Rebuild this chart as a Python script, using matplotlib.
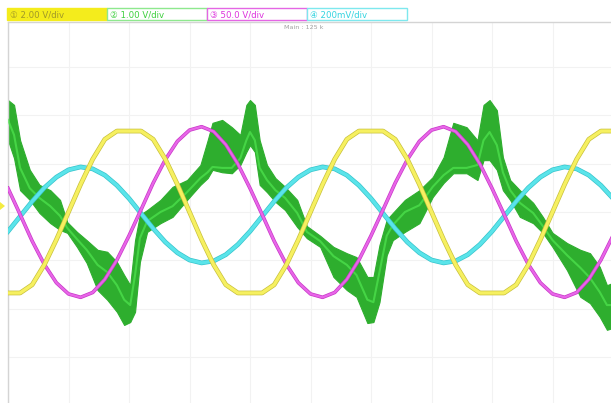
import matplotlib
matplotlib.use("Agg")
import matplotlib.pyplot as plt
from matplotlib.patches import Rectangle, Polygon

# Sine channels sampled every 1 ms, amplitudes in screen divisions
t_ms = list(range(0, 51))

ch1_yellow = [-1.67, -1.67, -1.50, -1.09, -0.57, 0.00, 0.57, 1.09, 1.50, 1.67,
              1.67, 1.67, 1.50, 1.09, 0.57, 0.00, -0.57, -1.09, -1.50, -1.67,
              -1.67, -1.67, -1.50, -1.09, -0.57, 0.00, 0.57, 1.09, 1.50, 1.67,
              1.67, 1.67, 1.50, 1.09, 0.57, 0.00, -0.57, -1.09, -1.50, -1.67,
              -1.67, -1.67, -1.50, -1.09, -0.57, 0.00, 0.57, 1.09, 1.50, 1.67,
              1.67]

ch3_magenta = [0.49, -0.05, -0.60, -1.08, -1.46, -1.69, -1.76, -1.66, -1.39, -0.99,
               -0.49, 0.05, 0.60, 1.08, 1.46, 1.69, 1.76, 1.66, 1.39, 0.99,
               0.49, -0.05, -0.60, -1.08, -1.46, -1.69, -1.76, -1.66, -1.39, -0.99,
               -0.49, 0.05, 0.60, 1.08, 1.46, 1.69, 1.76, 1.66, 1.39, 0.99,
               0.49, -0.05, -0.60, -1.08, -1.46, -1.69, -1.76, -1.66, -1.39, -0.99,
               -0.49]

ch4_cyan = [-0.40, -0.09, 0.22, 0.50, 0.72, 0.87, 0.93, 0.89, 0.76, 0.55,
            0.28, -0.03, -0.34, -0.62, -0.84, -0.99, -1.05, -1.01, -0.88, -0.67,
            -0.40, -0.09, 0.22, 0.50, 0.72, 0.87, 0.93, 0.89, 0.76, 0.55,
            0.28, -0.03, -0.34, -0.62, -0.84, -0.99, -1.05, -1.01, -0.88, -0.67,
            -0.40, -0.09, 0.22, 0.50, 0.72, 0.87, 0.93, 0.89, 0.76, 0.55,
            0.28]

# Channel 2 is a noisy current: envelope top / bottom and the bright core
ch2_t = [0.0, 0.5, 1.0, 1.8, 2.6, 3.5, 4.3, 4.9, 5.7, 6.5,
         7.4, 8.2, 9.0, 9.6, 10.1, 10.5, 10.9, 11.5, 12.6, 13.6,
         14.8, 15.9, 16.5, 16.9, 17.7, 18.5, 19.2, 19.7, 20.0, 20.4,
         20.8, 21.4, 22.1, 22.9, 23.9, 24.7, 25.8, 26.9, 28.0, 28.8,
         29.7, 30.2, 30.7, 31.3, 31.8, 32.8, 34.0, 35.1, 36.0, 36.8,
         37.9, 38.8, 39.3, 39.8, 40.4, 40.9, 41.5, 42.3, 43.4, 44.2,
         45.0, 46.2, 47.3, 48.1, 48.9, 49.5, 50.0]
ch2_hi = [2.31, 2.21, 1.48, 0.87, 0.56, 0.45, 0.25, -0.21, -0.41, -0.58,
          -0.78, -0.82, -1.03, -1.30, -1.51, -0.58, -0.06, 0.04, 0.25, 0.52,
          0.66, 0.97, 1.48, 1.84, 1.90, 1.75, 1.59, 2.21, 2.31, 2.21,
          1.48, 0.97, 0.70, 0.52, 0.25, -0.29, -0.49, -0.72, -0.85, -0.93,
          -1.34, -1.34, -0.68, -0.16, -0.02, 0.25, 0.45, 0.72, 1.13, 1.84,
          1.75, 1.48, 2.21, 2.31, 2.10, 1.13, 0.66, 0.45, 0.19, -0.10,
          -0.43, -0.64, -0.78, -0.85, -1.13, -1.51, -1.46]
ch2_lo = [1.48, 1.11, 0.45, 0.25, -0.02, -0.23, -0.37, -0.43, -0.72, -1.05,
          -1.61, -1.81, -2.06, -2.33, -2.27, -2.06, -1.03, -0.41, -0.23, -0.10,
          0.25, 0.56, 0.70, 0.87, 0.82, 0.80, 0.97, 1.24, 1.38, 1.24,
          0.56, 0.41, 0.21, 0.04, -0.31, -0.54, -0.72, -1.34, -1.61, -1.75,
          -2.29, -2.27, -1.86, -0.89, -0.58, -0.41, -0.23, 0.31, 0.60, 0.80,
          0.80, 0.66, 1.07, 1.07, 0.87, 0.45, 0.25, -0.10, -0.23, -0.43,
          -0.72, -1.20, -1.75, -1.88, -2.16, -2.43, -2.39]
ch2_mid = [1.90, 1.59, 0.91, 0.49, 0.29, 0.12, -0.08, -0.33, -0.56, -0.78,
           -1.09, -1.24, -1.51, -1.81, -1.92, -1.30, -0.54, -0.19, 0.00, 0.12,
           0.41, 0.70, 0.82, 0.93, 0.91, 0.91, 1.11, 1.48, 1.65, 1.48,
           0.91, 0.66, 0.45, 0.29, -0.02, -0.41, -0.60, -0.91, -1.09, -1.30,
           -1.81, -1.86, -1.24, -0.49, -0.27, 0.00, 0.14, 0.52, 0.76, 0.91,
           0.91, 0.97, 1.48, 1.65, 1.38, 0.82, 0.45, 0.19, -0.02, -0.29,
           -0.58, -0.89, -1.15, -1.36, -1.65, -1.92, -1.92]

header_labels = ["2.00 V/div", "1.00 V/div", "50.0 V/div", "200mV/div"]
header_marks = ["\u2460", "\u2461", "\u2462", "\u2463"]
header_edge = ["#f4ec1c", "#8ee88e", "#e466e4", "#7ee8ee"]
header_fill = ["#f4ec1c", "#ffffff", "#ffffff", "#ffffff"]
header_text = ["#a09828", "#3ccf3c", "#dd33dd", "#33d4e0"]

fig = plt.figure(figsize=(6.11, 4.03), dpi=100)
fig.patch.set_facecolor("white")

# screen area: 5 ms per vertical grid line, 1 div per horizontal line
ax = fig.add_axes([8 / 611, 0, 605 / 611, 381 / 403])
ax.set_xlim(0, 50)
ax.set_ylim(-3.94, 3.92)
ax.set_xticks(range(0, 51, 5))
ax.set_yticks(range(-3, 4))
ax.grid(color="#f2f2f2", lw=0.8)
ax.tick_params(length=0, labelleft=False, labelbottom=False)
for side in ["right", "bottom"]:
    ax.spines[side].set_visible(False)
for side in ["left", "top"]:
    ax.spines[side].set_color("#d4d4d4")
    ax.spines[side].set_linewidth(1.0)

# channel 2 band with its brighter core
ax.fill_between(ch2_t, ch2_lo, ch2_hi, color="#2eae2e", lw=0.8, zorder=2)
ax.plot(ch2_t, ch2_mid, color="#4fe64f", lw=1.5, alpha=0.7, zorder=3)

# sine channels, darker rim under a bright stroke
ax.plot(t_ms, ch4_cyan, color="#38c4cc", lw=3.4, zorder=4)
ax.plot(t_ms, ch4_cyan, color="#5ae4ea", lw=2.4, zorder=4)
ax.plot(t_ms, ch3_magenta, color="#c838c8", lw=2.6, zorder=5)
ax.plot(t_ms, ch3_magenta, color="#e866e8", lw=1.6, zorder=5)
ax.plot(t_ms, ch1_yellow, color="#c8c03c", lw=3.4, zorder=6)
ax.plot(t_ms, ch1_yellow, color="#f6f060", lw=2.4, zorder=6)

# header strip with the channel scale boxes
hud = fig.add_axes([0, 0, 1, 1], zorder=10)
hud.set_xlim(0, 611)
hud.set_ylim(403, 0)
hud.axis("off")
for i, label in enumerate(header_labels):
    x0 = 7 + 100 * i
    hud.add_patch(Rectangle((x0, 8), 100, 12, facecolor=header_fill[i],
                            edgecolor=header_edge[i], lw=1.0))
    hud.text(x0 + 3, 14.5, header_marks[i] + " " + label, color=header_text[i],
             fontsize=6.2, va="center", ha="left", family="DejaVu Sans")

hud.text(284, 27.5, "Main : 125 k", color="#a0a0a0", fontsize=4.6,
         va="center", ha="left")

# channel 1 ground marker on the left edge
hud.add_patch(Polygon([[0, 202], [5, 206], [0, 210]], closed=True,
                      facecolor="#f4ec40", edgecolor="none"))

fig.savefig("out.png", dpi=100)
